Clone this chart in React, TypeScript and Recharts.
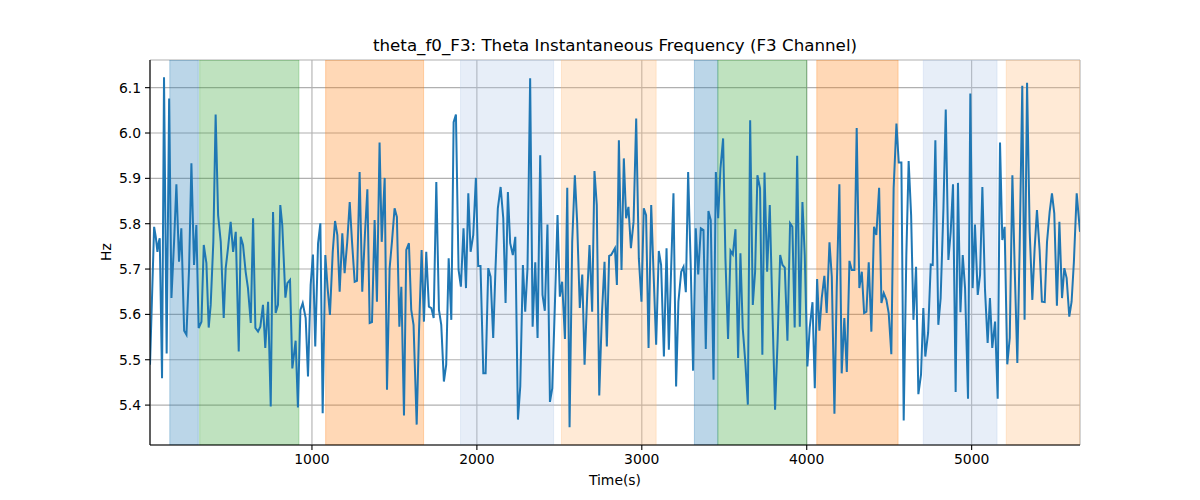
import React from 'react';
import { LineChart, Line, XAxis, YAxis, CartesianGrid, ReferenceArea } from 'recharts';

if (typeof document !== 'undefined') {
  document.body.style.margin = '0';
}

const times: number[] = [
  18, 43, 53, 63, 71, 77, 91, 103, 119, 134, 148, 164, 178, 194, 208, 225, 239, 255, 269, 285,
  299, 313, 330, 344, 360, 374, 386, 402, 416, 431, 447, 465, 477, 491, 507, 522, 538, 556, 568, 582,
  598, 612, 629, 643, 657, 673, 687, 703, 717, 734, 750, 764, 780, 794, 808, 820, 839, 851, 867, 881,
  901, 915, 930, 944,
  962, 976, 992, 1006, 1020, 1037, 1051, 1065, 1081, 1095, 1109, 1126, 1140, 1154, 1168, 1184, 1198, 1214, 1229, 1243,
  1259, 1273, 1289, 1305, 1321, 1336, 1350, 1364, 1380, 1394, 1410, 1423, 1441, 1455, 1471, 1485, 1501, 1515, 1530, 1542,
  1558, 1572, 1588, 1602, 1616, 1635, 1649, 1665, 1679, 1693, 1709, 1724, 1738, 1754, 1770, 1784, 1800, 1814, 1829, 1845,
  1859, 1873,
  1889, 1903, 1919, 1934, 1948, 1962, 1978, 1994, 2008, 2022, 2039, 2053, 2069, 2083, 2099, 2113, 2127, 2144, 2160, 2174,
  2188, 2202, 2218, 2233, 2249, 2263, 2279, 2293, 2307, 2323, 2338, 2354, 2368, 2384, 2398, 2412, 2428, 2443, 2457, 2473,
  2489, 2503, 2517, 2534, 2548, 2562, 2578, 2594, 2608, 2624, 2639, 2653, 2669, 2683, 2699, 2713, 2727, 2742, 2758, 2774,
  2788, 2802,
  2814, 2837, 2849, 2861, 2877, 2891, 2905, 2919, 2934, 2950, 2966, 2982, 2998, 3012, 3026, 3041, 3057, 3071, 3087, 3103,
  3117, 3134, 3150, 3164, 3178, 3192, 3208, 3222, 3239, 3253, 3267, 3281, 3297, 3311, 3327, 3342, 3358, 3374, 3388, 3404,
  3418, 3435, 3449, 3463, 3477, 3493, 3507, 3523, 3538, 3552, 3568, 3584, 3598, 3612, 3628, 3643, 3657, 3673, 3687, 3701,
  3717, 3731,
  3744, 3760, 3776, 3792, 3808, 3824, 3839, 3853, 3867, 3883, 3899, 3913, 3927, 3942, 3958, 3974, 3988, 4004, 4018, 4035,
  4049, 4063, 4077, 4091, 4107, 4121, 4138, 4152, 4168, 4182, 4198, 4212, 4228, 4243, 4259, 4273, 4289, 4303, 4319, 4334,
  4348, 4362, 4376, 4392, 4408, 4422, 4439, 4453, 4467, 4483, 4497, 4513, 4527, 4544, 4558, 4574, 4588, 4604, 4618, 4633,
  4647, 4663, 4677,
  4693, 4707, 4719, 4736, 4752, 4764, 4780, 4798, 4812, 4829, 4843, 4859, 4873, 4887, 4903, 4917, 4932, 4946, 4960, 4978,
  4992, 5006, 5020, 5037, 5051, 5065, 5081, 5097, 5111, 5125, 5142, 5158, 5172, 5186, 5200, 5216, 5231, 5247, 5261, 5277,
  5291, 5307, 5321, 5336, 5352, 5368, 5382, 5396, 5412, 5426, 5443, 5457, 5473, 5487, 5501, 5517, 5532, 5548, 5562, 5576,
  5592, 5606, 5620, 5637, 5657,
];

const hzValues: number[] = [
  5.489, 5.793, 5.771, 5.738, 5.760, 5.768, 5.459, 6.123, 5.514, 6.076, 5.636, 5.760, 5.887, 5.716, 5.790, 5.564, 5.555, 5.702, 5.933, 5.709,
  5.797, 5.570, 5.584, 5.753, 5.713, 5.571, 5.621, 5.760, 6.041, 5.819, 5.760, 5.592, 5.702, 5.746, 5.804, 5.738, 5.782, 5.518, 5.771, 5.753,
  5.694, 5.658, 5.581, 5.812, 5.570, 5.562, 5.573, 5.621, 5.526, 5.628, 5.397, 5.826, 5.603, 5.621, 5.841, 5.797, 5.637, 5.669, 5.676, 5.481,
  5.542, 5.395, 5.610, 5.625,
  5.592, 5.463, 5.665, 5.732, 5.529, 5.757, 5.801, 5.382, 5.731, 5.658, 5.599, 5.738, 5.806, 5.775, 5.650, 5.779, 5.691, 5.760, 5.848, 5.760,
  5.672, 5.674, 5.914, 5.650, 5.775, 5.876, 5.581, 5.583, 5.808, 5.628, 5.979, 5.760, 5.901, 5.434, 5.702, 5.760, 5.834, 5.815, 5.573, 5.661,
  5.377, 5.742, 5.757, 5.610, 5.577, 5.357, 5.562, 5.742, 5.584, 5.738, 5.617, 5.614, 5.592, 5.892, 5.610, 5.577, 5.452, 5.489, 5.724, 5.588,
  6.024, 6.041,
  5.698, 5.661, 5.790, 5.658, 5.867, 5.738, 5.775, 5.901, 5.707, 5.707, 5.470, 5.470, 5.702, 5.683, 5.548, 5.702, 5.834, 5.881, 5.812, 5.625,
  5.870, 5.757, 5.731, 5.771, 5.368, 5.441, 5.709, 5.606, 5.702, 6.121, 5.573, 5.715, 5.548, 5.951, 5.643, 5.608, 5.798, 5.407, 5.437, 5.621,
  5.819, 5.639, 5.672, 5.546, 5.879, 5.351, 5.760, 5.907, 5.804, 5.614, 5.688, 5.489, 5.643, 5.753, 5.606, 5.916, 5.841, 5.421, 5.599, 5.716,
  5.529, 5.729,
  5.731, 5.746, 5.665, 5.984, 5.698, 5.944, 5.812, 5.837, 5.746, 5.804, 6.032, 5.724, 5.628, 5.834, 5.819, 5.526, 5.841, 5.694, 5.533, 5.740,
  5.709, 5.507, 5.746, 5.522, 5.702, 5.867, 5.441, 5.628, 5.694, 5.705, 5.649, 5.914, 5.702, 5.476, 5.790, 5.688, 5.790, 5.786, 5.524, 5.828,
  5.808, 5.456, 5.914, 5.812, 5.922, 5.988, 5.724, 5.546, 5.740, 5.732, 5.788, 5.504, 5.735, 5.570, 5.493, 5.401, 6.028, 5.621, 5.694, 5.907,
  5.878, 5.511,
  5.913, 5.694, 5.841, 5.606, 5.390, 5.548, 5.731, 5.709, 5.703, 5.542, 5.801, 5.793, 5.571, 5.950, 5.573, 5.848, 5.731, 5.485, 5.570, 5.627,
  5.437, 5.678, 5.564, 5.636, 5.685, 5.603, 5.759, 5.683, 5.381, 5.658, 5.887, 5.470, 5.592, 5.473, 5.718, 5.698, 5.698, 6.011, 5.658, 5.694,
  5.603, 5.606, 5.715, 5.562, 5.793, 5.775, 5.879, 5.625, 5.647, 5.632, 5.603, 5.512, 5.878, 6.021, 5.935, 5.935, 5.366, 5.731, 5.938, 5.819,
  5.588, 5.705, 5.424,
  5.467, 5.614, 5.507, 5.559, 5.710, 5.709, 5.984, 5.577, 5.636, 5.834, 6.052, 5.720, 5.782, 5.887, 5.429, 5.890, 5.605, 5.731, 5.658, 5.414,
  6.087, 5.658, 5.798, 5.643, 5.687, 5.881, 5.654, 5.537, 5.636, 5.526, 5.584, 5.414, 5.979, 5.764, 5.793, 5.490, 5.548, 5.907, 5.702, 5.493,
  5.746, 6.104, 5.588, 6.111, 5.782, 5.632, 5.746, 5.830, 5.742, 5.628, 5.627, 5.760, 5.826, 5.867, 5.823, 5.619, 5.804, 5.636, 5.702, 5.680,
  5.595, 5.628, 5.716, 5.867, 5.782,
];

// shaded intervals (start, end in seconds) and their colours
const bandStarts: number[] = [138, 319, 1083, 1901, 2513, 3319, 3461, 4061, 4707, 5210];
const bandEnds: number[] = [311, 921, 1677, 2465, 3087, 3461, 4000, 4554, 5154, 5657];
const bandColors: string[] = [
  '#1f77b4', '#2ca02c', '#ff7f0e', '#aec7e8', '#ffbb78',
  '#1f77b4', '#2ca02c', '#ff7f0e', '#aec7e8', '#ffbb78',
];

const xTicks: number[] = [1000, 2000, 3000, 4000, 5000];
const yTicks: number[] = [5.4, 5.5, 5.6, 5.7, 5.8, 5.9, 6.0, 6.1];

const titleText = 'theta_f0_F3: Theta Instantaneous Frequency (F3 Channel)';
const xLabel = 'Time(s)';
const yLabel = 'Hz';

const rows = times.slice(0, Math.min(times.length, hzValues.length)).map((t, i) => ({ t, hz: hzValues[i] }));

const FONT = '"DejaVu Sans", Verdana, sans-serif';

export default function App() {
  const tickStyle = { fontSize: 13.9, fill: '#000', fontFamily: FONT };
  return (
    <div style={{ position: 'relative', width: 1200, height: 500, background: '#fff', fontFamily: FONT }}>
      <LineChart
        width={1200}
        height={500}
        data={rows}
        margin={{ top: 60, right: 120, bottom: 25, left: 90 }}
      >
        {bandStarts.map((s, i) => (
          <ReferenceArea
            key={i}
            x1={s}
            x2={bandEnds[i]}
            fill={bandColors[i]}
            fillOpacity={0.3}
            stroke={bandColors[i]}
            strokeOpacity={0.3}
            strokeWidth={1}
            ifOverflow="hidden"
          />
        ))}
        <CartesianGrid stroke="#b0b0b0" strokeWidth={1.1} />
        <XAxis
          dataKey="t"
          type="number"
          domain={[18, 5657]}
          ticks={xTicks}
          allowDataOverflow
          height={30}
          tickSize={5}
          tickMargin={4}
          tick={tickStyle}
          stroke="#000"
          axisLine={{ stroke: '#000', strokeWidth: 1.1 }}
          tickLine={{ stroke: '#000', strokeWidth: 1.1 }}
        />
        <XAxis
          xAxisId="top"
          dataKey="t"
          type="number"
          orientation="top"
          domain={[18, 5657]}
          height={0}
          tick={false}
          tickLine={false}
          axisLine={{ stroke: '#000', strokeWidth: 1.1 }}
        />
        <YAxis
          type="number"
          domain={[5.312, 6.161]}
          ticks={yTicks}
          allowDataOverflow
          width={60}
          tickSize={5}
          tickMargin={4}
          tick={tickStyle}
          tickFormatter={(v: number) => v.toFixed(1)}
          axisLine={{ stroke: '#000', strokeWidth: 1.1 }}
          tickLine={{ stroke: '#000', strokeWidth: 1.1 }}
        />
        <YAxis
          yAxisId="right"
          orientation="right"
          type="number"
          domain={[5.312, 6.161]}
          width={0}
          tick={false}
          tickLine={false}
          axisLine={{ stroke: '#000', strokeWidth: 1.1 }}
        />
        <Line
          type="linear"
          dataKey="hz"
          stroke="#1f77b4"
          strokeWidth={2}
          dot={false}
          isAnimationActive={false}
        />
      </LineChart>
      <div
        style={{
          position: 'absolute',
          left: 150,
          width: 930,
          top: 35,
          textAlign: 'center',
          fontSize: 16.7,
          lineHeight: '20px',
          color: '#000',
          whiteSpace: 'nowrap',
        }}
      >
        {titleText}
      </div>
      <div
        style={{
          position: 'absolute',
          left: 150,
          width: 930,
          top: 472,
          textAlign: 'center',
          fontSize: 13.9,
          lineHeight: '17px',
          color: '#000',
        }}
      >
        {xLabel}
      </div>
      <div
        style={{
          position: 'absolute',
          left: 106,
          top: 252,
          transform: 'translate(-50%, -50%) rotate(-90deg)',
          fontSize: 13.9,
          lineHeight: '17px',
          color: '#000',
          whiteSpace: 'nowrap',
        }}
      >
        {yLabel}
      </div>
    </div>
  );
}
